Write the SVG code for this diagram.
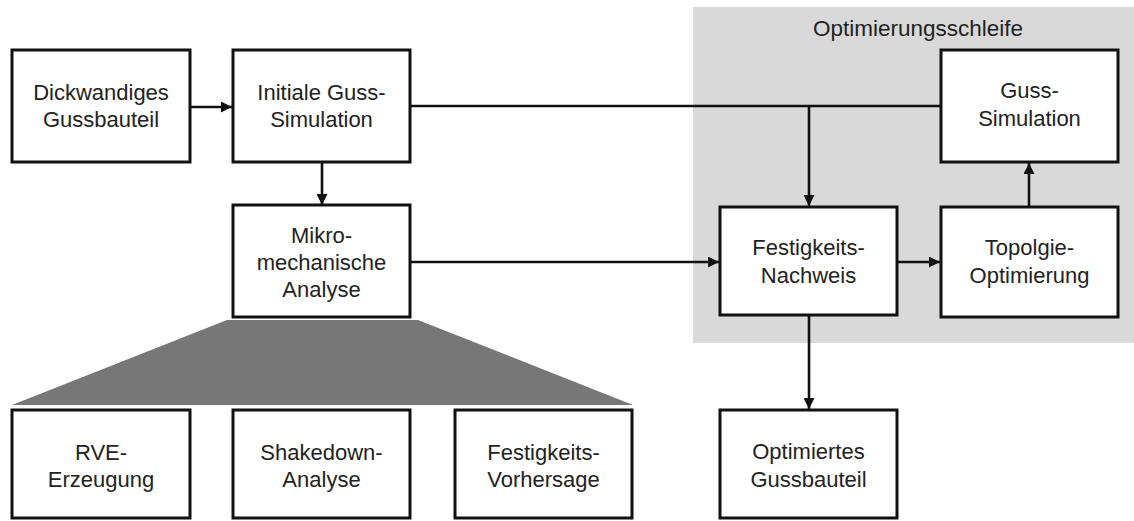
<svg xmlns="http://www.w3.org/2000/svg" width="1134" height="521" viewBox="0 0 1134 521">
  <defs>
    <marker id="arrow" viewBox="0 0 10 10" refX="10" refY="5" markerWidth="11" markerHeight="11" markerUnits="userSpaceOnUse" orient="auto">
      <path d="M0,0 L10,5 L0,10 z" fill="#111"/>
    </marker>
    <style>
      .box { fill: #ffffff; stroke: #111; stroke-width: 3; }
      .lbl { font-family: "Liberation Sans", Arial, sans-serif; font-size: 22px; fill: #222; text-anchor: middle; }
      .wire { fill: none; stroke: #111; stroke-width: 2.6; }
      .arr { marker-end: url(#arrow); }
    </style>
  </defs>
  <rect width="1134" height="521" fill="#ffffff"/>

  <!-- optimisation loop area -->
  <g id="loop">
    <rect x="693" y="7" width="441" height="336" fill="#d9d9d9"/>
    <text class="lbl" x="918" y="36" style="font-size:22.5px">Optimierungsschleife</text>
  </g>

  <!-- fan-out from micromechanical analysis to its sub-steps -->
  <polygon id="fan" points="227,320 418,320 633,405 12,405" fill="#777777"/>

  <g id="connectors">
    <line class="wire arr" x1="190" y1="107" x2="232" y2="107"/>
    <line class="wire arr" x1="322" y1="162" x2="322" y2="205"/>
    <line class="wire" x1="410" y1="106" x2="941" y2="106"/>
    <line class="wire arr" x1="809" y1="106" x2="809" y2="206"/>
    <line class="wire arr" x1="410" y1="262" x2="719" y2="262"/>
    <line class="wire arr" x1="897" y1="262" x2="940" y2="262"/>
    <line class="wire arr" x1="1029" y1="207" x2="1029" y2="163"/>
    <line class="wire arr" x1="809" y1="315" x2="809" y2="409"/>
  </g>

  <g id="dickwandiges">
    <rect class="box" x="12" y="50" width="178" height="112"/>
    <text class="lbl" x="101" y="100">Dickwandiges</text>
    <text class="lbl" x="101" y="127">Gussbauteil</text>
  </g>

  <g id="initiale">
    <rect class="box" x="233" y="50" width="177" height="112"/>
    <text class="lbl" x="321.5" y="100">Initiale Guss-</text>
    <text class="lbl" x="321.5" y="127">Simulation</text>
  </g>

  <g id="mikro">
    <rect class="box" x="233" y="205" width="177" height="112"/>
    <text class="lbl" x="321.5" y="243">Mikro-</text>
    <text class="lbl" x="321.5" y="270">mechanische</text>
    <text class="lbl" x="321.5" y="297">Analyse</text>
  </g>

  <g id="guss-sim">
    <rect class="box" x="941" y="50" width="177" height="112"/>
    <text class="lbl" x="1029.5" y="98">Guss-</text>
    <text class="lbl" x="1029.5" y="126">Simulation</text>
  </g>

  <g id="festigkeit">
    <rect class="box" x="720" y="207" width="177" height="108"/>
    <text class="lbl" x="808.5" y="255">Festigkeits-</text>
    <text class="lbl" x="808.5" y="283">Nachweis</text>
  </g>

  <g id="topologie">
    <rect class="box" x="941" y="207" width="177" height="110"/>
    <text class="lbl" x="1029.5" y="255">Topolgie-</text>
    <text class="lbl" x="1029.5" y="283">Optimierung</text>
  </g>

  <g id="optimiert">
    <rect class="box" x="720" y="410" width="177" height="108"/>
    <text class="lbl" x="808.5" y="459">Optimiertes</text>
    <text class="lbl" x="808.5" y="487">Gussbauteil</text>
  </g>

  <g id="rve">
    <rect class="box" x="12" y="410" width="178" height="108"/>
    <text class="lbl" x="101" y="460">RVE-</text>
    <text class="lbl" x="101" y="487">Erzeugung</text>
  </g>

  <g id="shakedown">
    <rect class="box" x="233" y="410" width="177" height="108"/>
    <text class="lbl" x="321.5" y="460">Shakedown-</text>
    <text class="lbl" x="321.5" y="487">Analyse</text>
  </g>

  <g id="vorhersage">
    <rect class="box" x="455" y="410" width="177" height="108"/>
    <text class="lbl" x="543.5" y="460">Festigkeits-</text>
    <text class="lbl" x="543.5" y="487">Vorhersage</text>
  </g>
</svg>
